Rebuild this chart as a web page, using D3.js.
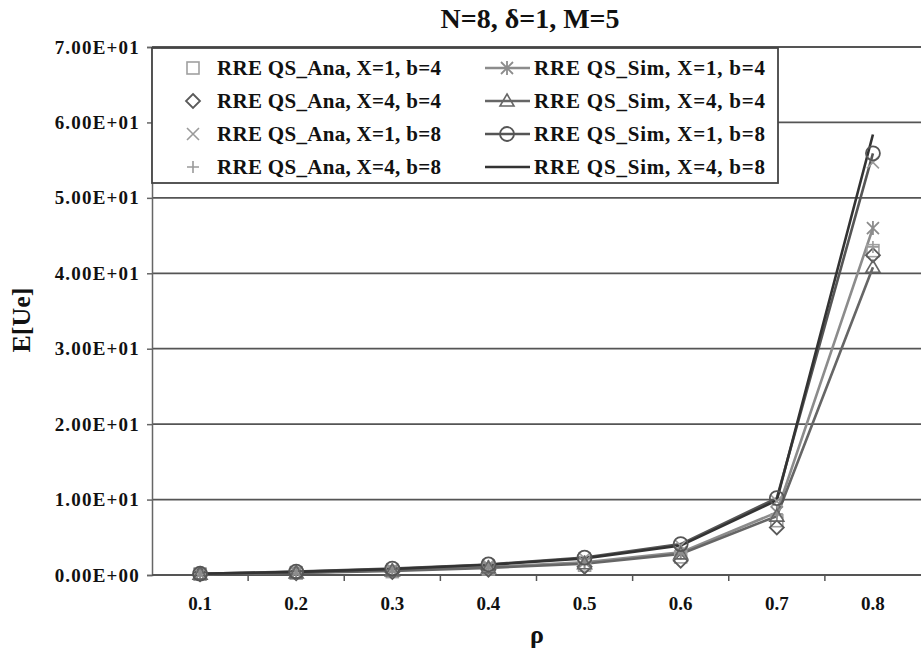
<!DOCTYPE html>
<html>
<head>
<meta charset="utf-8">
<script src="https://cdnjs.cloudflare.com/ajax/libs/d3/7.8.5/d3.min.js"></script>
<style>
  body { margin: 0; background: #fff; }
  svg text { font-family: "Liberation Serif", "Times New Roman", Times, "Nimbus Roman", "FreeSerif", "Noto Serif", "DejaVu Serif", serif !important; font-weight: bold; fill: #111; }
</style>
</head>
<body>
<div id="chart"></div>
<script>
// CATEGORIES AND TICK LABELS
var rho = ['0.1', '0.2', '0.3', '0.4', '0.5', '0.6', '0.7', '0.8'];
var yTicks = [0, 10, 20, 30, 40, 50, 60, 70];

// SERIES VALUES
var anaX1b4 = [0.11, 0.25, 0.45, 0.80, 1.3, 2.4, 7.2, 43.0];
var anaX4b4 = [0.10, 0.22, 0.40, 0.70, 1.1, 1.9, 6.3, 42.4];
var anaX1b8 = [0.15, 0.40, 0.75, 1.30, 2.2, 3.9, 9.8, 54.7];
var anaX4b8 = [0.12, 0.30, 0.60, 1.00, 1.6, 2.9, 8.1, 43.5];
var simX1b4 = [0.13, 0.32, 0.62, 1.05, 1.7, 3.0, 8.3, 46.0];
var simX4b4 = [0.12, 0.28, 0.55, 0.95, 1.5, 2.8, 7.8, 40.8];
var simX1b8 = [0.17, 0.45, 0.85, 1.40, 2.3, 4.1, 10.2, 55.9];
var simX4b8 = [0.16, 0.42, 0.80, 1.35, 2.2, 3.9, 9.9, 58.4];

// SERIES TABLE
var series = [
   { name: 'RRE QS_Ana, X=1, b=4', values: anaX1b4, line: false, marker: 'square',   color: '#a0a0a0' },
   { name: 'RRE QS_Ana, X=4, b=4', values: anaX4b4, line: false, marker: 'diamond',  color: '#5a5a5a' },
   { name: 'RRE QS_Ana, X=1, b=8', values: anaX1b8, line: false, marker: 'x',        color: '#9a9a9a' },
   { name: 'RRE QS_Ana, X=4, b=8', values: anaX4b8, line: false, marker: 'plus',     color: '#9a9a9a' },
   { name: 'RRE QS_Sim, X=1, b=4', values: simX1b4, line: true,  marker: 'asterisk', color: '#8c8c8c' },
   { name: 'RRE QS_Sim, X=4, b=4', values: simX4b4, line: true,  marker: 'triangle', color: '#666' },
   { name: 'RRE QS_Sim, X=1, b=8', values: simX1b8, line: true,  marker: 'circle',   color: '#555' },
   { name: 'RRE QS_Sim, X=4, b=8', values: simX4b8, line: true,  marker: 'none',     color: '#333' }
];

// SETTINGS
var settings = {
   width: 922,
   height: 651,
   plot: { left: 152, right: 921, top: 47, bottom: 575 },
   grid: '#555',
   font: { tick: 19, legend: 21, title: 28, axis: 26 }
};

var svg = d3.select('#chart').append('svg')
   .attr('width', settings.width)
   .attr('height', settings.height);

// SCALES
var xScale = d3.scaleBand()
   .domain(rho)
   .range([settings.plot.left, settings.plot.right]);

var yScale = d3.scaleLinear()
   .domain([0, 70])
   .range([settings.plot.bottom, settings.plot.top]);

// HORIZONTAL GRID LINES
svg.append('g').selectAll('line').data(yTicks.filter(function (d) { return d > 0; })).enter()
   .append('line')
   .attr('x1', settings.plot.left)
   .attr('x2', settings.plot.right)
   .attr('y1', function (d) { return yScale(d); })
   .attr('y2', function (d) { return yScale(d); })
   .attr('stroke', settings.grid)
   .attr('stroke-width', 1.8);

// FORMAT LIKE 7.00E+01
function sci(v) {
   var s = v.toExponential(2).split('e');
   var exp = parseInt(s[1], 10);
   var sign = exp < 0 ? '-' : '+';
   var digits = ('0' + Math.abs(exp)).slice(-2);
   return s[0] + 'E' + sign + digits;
}

// Y AXIS
var yAxis = d3.axisLeft(yScale)
   .tickValues(yTicks)
   .tickFormat(sci)
   .tickSize(5)
   .tickPadding(7);

var gy = svg.append('g')
   .attr('transform', 'translate(' + settings.plot.left + ',0)')
   .call(yAxis)
   .attr('font-family', null);
gy.select('.domain').attr('stroke', '#666').attr('stroke-width', 1.5);
gy.selectAll('.tick line').attr('stroke', '#666').attr('stroke-width', 1.5);
gy.selectAll('.tick text')
   .style('font-size', settings.font.tick + 'px')
   .style('letter-spacing', '1.2px')
   .attr('fill', '#111');

// X AXIS, TICKS BETWEEN THE CATEGORIES
var xAxis = d3.axisBottom(xScale)
   .tickSize(0)
   .tickPadding(22);

var gx = svg.append('g')
   .attr('transform', 'translate(0,' + settings.plot.bottom + ')')
   .call(xAxis)
   .attr('font-family', null);
gx.select('.domain').remove();
gx.selectAll('.tick text')
   .style('font-size', settings.font.tick + 'px')
   .attr('fill', '#111');

svg.append('line')
   .attr('x1', settings.plot.left)
   .attr('x2', settings.plot.right)
   .attr('y1', settings.plot.bottom)
   .attr('y2', settings.plot.bottom)
   .attr('stroke', '#555')
   .attr('stroke-width', 1.8);

svg.append('g').selectAll('line').data(rho.slice(1)).enter()
   .append('line')
   .attr('x1', function (d) { return xScale(d); })
   .attr('x2', function (d) { return xScale(d); })
   .attr('y1', settings.plot.bottom)
   .attr('y2', settings.plot.bottom + 6)
   .attr('stroke', '#555')
   .attr('stroke-width', 1.5);

// MARKER DRAWING
function drawMarker(g, type, color, x, y) {
   var s = 6;
   if (type === 'square') {
      g.append('rect').attr('x', x - s).attr('y', y - s).attr('width', 2 * s).attr('height', 2 * s)
         .attr('fill', 'none').attr('stroke', color).attr('stroke-width', 1.6);
   } else if (type === 'diamond') {
      g.append('path').attr('d', 'M' + x + ',' + (y - 7) + 'L' + (x + 7) + ',' + y + 'L' + x + ',' + (y + 7) + 'L' + (x - 7) + ',' + y + 'Z')
         .attr('fill', 'none').attr('stroke', color).attr('stroke-width', 1.8);
   } else if (type === 'x') {
      g.append('path').attr('d', 'M' + (x - s) + ',' + (y - s) + 'L' + (x + s) + ',' + (y + s) + 'M' + (x + s) + ',' + (y - s) + 'L' + (x - s) + ',' + (y + s))
         .attr('stroke', color).attr('stroke-width', 1.6);
   } else if (type === 'plus') {
      g.append('path').attr('d', 'M' + (x - s) + ',' + y + 'L' + (x + s) + ',' + y + 'M' + x + ',' + (y - s) + 'L' + x + ',' + (y + s))
         .attr('stroke', color).attr('stroke-width', 1.6);
   } else if (type === 'asterisk') {
      g.append('path').attr('d', 'M' + (x - s) + ',' + (y - s) + 'L' + (x + s) + ',' + (y + s) + 'M' + (x + s) + ',' + (y - s) + 'L' + (x - s) + ',' + (y + s) + 'M' + x + ',' + (y - s - 1) + 'L' + x + ',' + (y + s + 1))
         .attr('stroke', color).attr('stroke-width', 1.8);
   } else if (type === 'triangle') {
      g.append('path').attr('d', 'M' + x + ',' + (y - 7) + 'L' + (x + 7) + ',' + (y + 5) + 'L' + (x - 7) + ',' + (y + 5) + 'Z')
         .attr('fill', 'none').attr('stroke', color).attr('stroke-width', 1.6);
   } else if (type === 'circle') {
      g.append('circle').attr('cx', x).attr('cy', y).attr('r', 7)
         .attr('fill', 'none').attr('stroke', color).attr('stroke-width', 1.8);
   }
}

// LINE GENERATOR
var pathify = d3.line()
   .x(function (d, i) { return xScale(rho[i]) + xScale.bandwidth() / 2; })
   .y(function (d) { return yScale(d); });

// DRAW SERIES
var plot = svg.append('g');
series.forEach(function (s) {
   if (s.line) {
      plot.append('path')
         .attr('d', pathify(s.values))
         .attr('fill', 'none')
         .attr('stroke', s.color)
         .attr('stroke-width', 2.6);
   }
});
series.forEach(function (s) {
   var g = plot.append('g');
   s.values.forEach(function (v, i) {
      drawMarker(g, s.marker, s.color, xScale(rho[i]) + xScale.bandwidth() / 2, yScale(v));
   });
});

// LEGEND
var legend = svg.append('g');
legend.append('rect')
   .attr('x', 152).attr('y', 48).attr('width', 626).attr('height', 135)
   .attr('fill', '#fff').attr('stroke', '#444').attr('stroke-width', 1.8);

series.forEach(function (s, i) {
   var col = i < 4 ? 0 : 1;
   var row = i % 4;
   var y = 68 + row * 33;
   var mx = col === 0 ? 193 : 507;
   if (s.line) {
      legend.append('line')
         .attr('x1', 485).attr('x2', 530).attr('y1', y).attr('y2', y)
         .attr('stroke', s.color).attr('stroke-width', 2.6);
   }
   drawMarker(legend, s.marker, s.color, mx, y);
   legend.append('text')
      .attr('x', col === 0 ? 217 : 534)
      .attr('y', y + 7)
      .style('font-size', settings.font.legend + 'px')
      .style('letter-spacing', col === 0 ? '0.3px' : '0.8px')
      .text(s.name);
});

// TITLES
svg.append('text')
   .attr('x', 530).attr('y', 28)
   .attr('text-anchor', 'middle')
   .style('font-size', settings.font.title + 'px')
   .text('N=8, δ=1, M=5');

svg.append('text')
   .attr('transform', 'translate(30,320) rotate(-90)')
   .attr('text-anchor', 'middle')
   .style('font-size', settings.font.axis + 'px')
   .text('E[Ue]');

svg.append('text')
   .attr('x', 537).attr('y', 643)
   .attr('text-anchor', 'middle')
   .style('font-size', settings.font.axis + 'px')
   .text('ρ');
</script>
</body>
</html>
